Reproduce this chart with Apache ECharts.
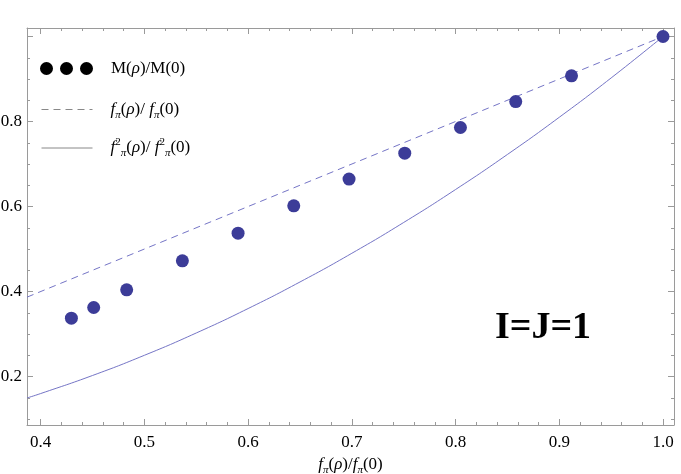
<!DOCTYPE html>
<html lang="en">
<head>
  <meta charset="UTF-8">
  <title>M(rho)/M(0) vs f_pi ratio</title>
  <style>
    html, body { margin: 0; padding: 0; background: #fff; }
  </style>
</head>
<body>
  <div id="chart" style="width: 681px;height: 474px;"></div>
  <script src="https://cdn.jsdelivr.net/npm/echarts@6/dist/echarts.min.js"></script>
  <script>
    // points
    var massX = [0.4296, 0.4511, 0.4829, 0.5366, 0.5903, 0.644, 0.6973, 0.751, 0.8047, 0.858, 0.9118, 1.0];
    var massY = [0.3374, 0.3624, 0.404, 0.4722, 0.5374, 0.6016, 0.6645, 0.7256, 0.7859, 0.847, 0.9075, 1.0];
    // dashed line (straight)
    var fpiX = [0.3868, 1.0];
    var fpiY = [0.3868, 1.0];
    // solid curve
    var fpi2X = [0.3868, 0.4, 0.45, 0.5, 0.55, 0.6, 0.65, 0.7, 0.75, 0.8, 0.85, 0.9, 0.95, 1.0];
    var fpi2Y = [0.1496, 0.16, 0.2025, 0.25, 0.3025, 0.36, 0.4225, 0.49, 0.5625, 0.64, 0.7225, 0.81, 0.9025, 1.0];

    var xMin = 0.3868, xMax = 1.0106;
    var yMin = 0.086, yMax = 1.02;

    function pairs(xs, ys) {
      return xs.map(function (x, i) { return [x, ys[i]]; });
    }

    var serif = '"Liberation Serif", "DejaVu Serif", serif';
    var rich = {
      n: { fontFamily: serif, fontSize: 17, color: '#000', lineHeight: 22 },
      i: { fontFamily: serif, fontSize: 17, fontStyle: 'italic', color: '#000', lineHeight: 22 },
      sb: { fontFamily: serif, fontSize: 11, fontStyle: 'italic', color: '#000', verticalAlign: 'bottom', lineHeight: 22 },
      sp: { fontFamily: serif, fontSize: 11, color: '#000', verticalAlign: 'top', lineHeight: 22 },
      gap: { width: 13 }
    };
    var labels = {
      'M(ρ)/M(0)': '{gap|}{n|M(}{i|ρ}{n|)/M(0)}',
      'fπ(ρ)/fπ(0)': '{gap|}{i|f}{sb|π}{n|(}{i|ρ}{n|)/ }{i|f}{sb|π}{n|(0)}',
      'fπ2(ρ)/fπ2(0)': '{gap|}{i|f}{sp|2}{sb|π}{n|(}{i|ρ}{n|)/ }{i|f}{sp|2}{sb|π}{n|(0)}'
    };

    function legendAt(name, left, top, width, height, icon, style) {
      var item = { name: name };
      if (icon) item.icon = icon;
      Object.assign(item, style);
      return {
        data: [item],
        left: left,
        top: top,
        padding: 0,
        itemWidth: width,
        itemHeight: height,
        selectedMode: false,
        formatter: function (n) { return labels[n]; },
        textStyle: { rich: rich }
      };
    }

    var axisCol = '#9a9a9a';
    function fmt(v) { return v > 0.95 ? '' : v.toFixed(1); }
    function xAx(pos, show) {
      return {
        type: 'value', position: pos, min: xMin, max: xMax,
        axisLine: { show: true, onZero: false, lineStyle: { color: axisCol } },
        axisTick: { show: true, inside: true, length: 6, lineStyle: { color: axisCol } },
        minorTick: { show: true, splitNumber: 5, length: 3, lineStyle: { color: axisCol } },
        axisLabel: show ? {
          show: true, showMinLabel: false, showMaxLabel: false, margin: 9,
          fontFamily: serif, fontSize: 17, color: '#000',
          formatter: function (v) { return v.toFixed(1); }
        } : { show: false },
        splitLine: { show: false }
      };
    }
    function yAx(pos, show) {
      return {
        type: 'value', position: pos, min: yMin, max: yMax,
        axisLine: { show: true, onZero: false, lineStyle: { color: axisCol } },
        axisTick: { show: true, inside: true, length: 6, lineStyle: { color: axisCol } },
        minorTick: { show: true, splitNumber: 4, length: 3, lineStyle: { color: axisCol } },
        axisLabel: show ? {
          show: true, showMinLabel: false, showMaxLabel: false, margin: 5,
          fontFamily: serif, fontSize: 17, color: '#000',
          formatter: fmt
        } : { show: false },
        splitLine: { show: false }
      };
    }

    var bottomAxis = xAx('bottom', true);
    bottomAxis.name = '{i|f}{sb|π}{n|(}{i|ρ}{n|)/}{i|f}{sb|π}{n|(0)}';
    bottomAxis.nameLocation = 'middle';
    bottomAxis.nameGap = 23;
    bottomAxis.nameTextStyle = { rich: rich };

    var chart = echarts.init(document.getElementById('chart'));
    chart.setOption({
      animation: false,
      backgroundColor: '#fff',
      grid: { left: 27, right: 7, top: 28, bottom: 49, containLabel: false, outerBoundsMode: 'none' },
      xAxis: [bottomAxis, xAx('top', false)],
      yAxis: [yAx('left', true), yAx('right', false)],
      legend: [
        legendAt('M(ρ)/M(0)', 40, 60, 53, 13,
          'path://M0,6.5a6.5,6.5 0 1,0 13,0a6.5,6.5 0 1,0 -13,0M20,6.5a6.5,6.5 0 1,0 13,0a6.5,6.5 0 1,0 -13,0M40,6.5a6.5,6.5 0 1,0 13,0a6.5,6.5 0 1,0 -13,0',
          { itemStyle: { color: '#000', opacity: 1 } }),
        legendAt('fπ(ρ)/fπ(0)', 41, 101, 51, 14, null,
          { itemStyle: { color: '#888', opacity: 0 }, lineStyle: { color: '#888', type: [7, 5], width: 1, opacity: 1 } }),
        legendAt('fπ2(ρ)/fπ2(0)', 41, 137, 51, 14, null,
          { itemStyle: { color: '#888', opacity: 0 }, lineStyle: { color: '#888', width: 1, opacity: 1 } })
      ],
      graphic: [{
        type: 'text',
        left: 495,
        top: 309,
        style: {
          text: 'I=J=1',
          font: 'bold 38px ' + serif,
          fill: '#000'
        }
      }],
      series: [
        {
          name: 'fπ(ρ)/fπ(0)',
          type: 'line',
          data: pairs(fpiX, fpiY),
          symbol: 'none',
          lineStyle: { color: '#7575c6', width: 1, type: [7, 5] },
          itemStyle: { color: '#7575c6' },
          z: 2
        },
        {
          name: 'fπ2(ρ)/fπ2(0)',
          type: 'line',
          data: pairs(fpi2X, fpi2Y),
          symbol: 'none',
          smooth: true,
          lineStyle: { color: '#7575c6', width: 1 },
          itemStyle: { color: '#7575c6' },
          z: 2
        },
        {
          name: 'M(ρ)/M(0)',
          type: 'scatter',
          data: pairs(massX, massY),
          symbolSize: 13,
          itemStyle: { color: '#3c3c98', opacity: 1 },
          z: 3
        }
      ]
    });
  </script>
</body>
</html>
